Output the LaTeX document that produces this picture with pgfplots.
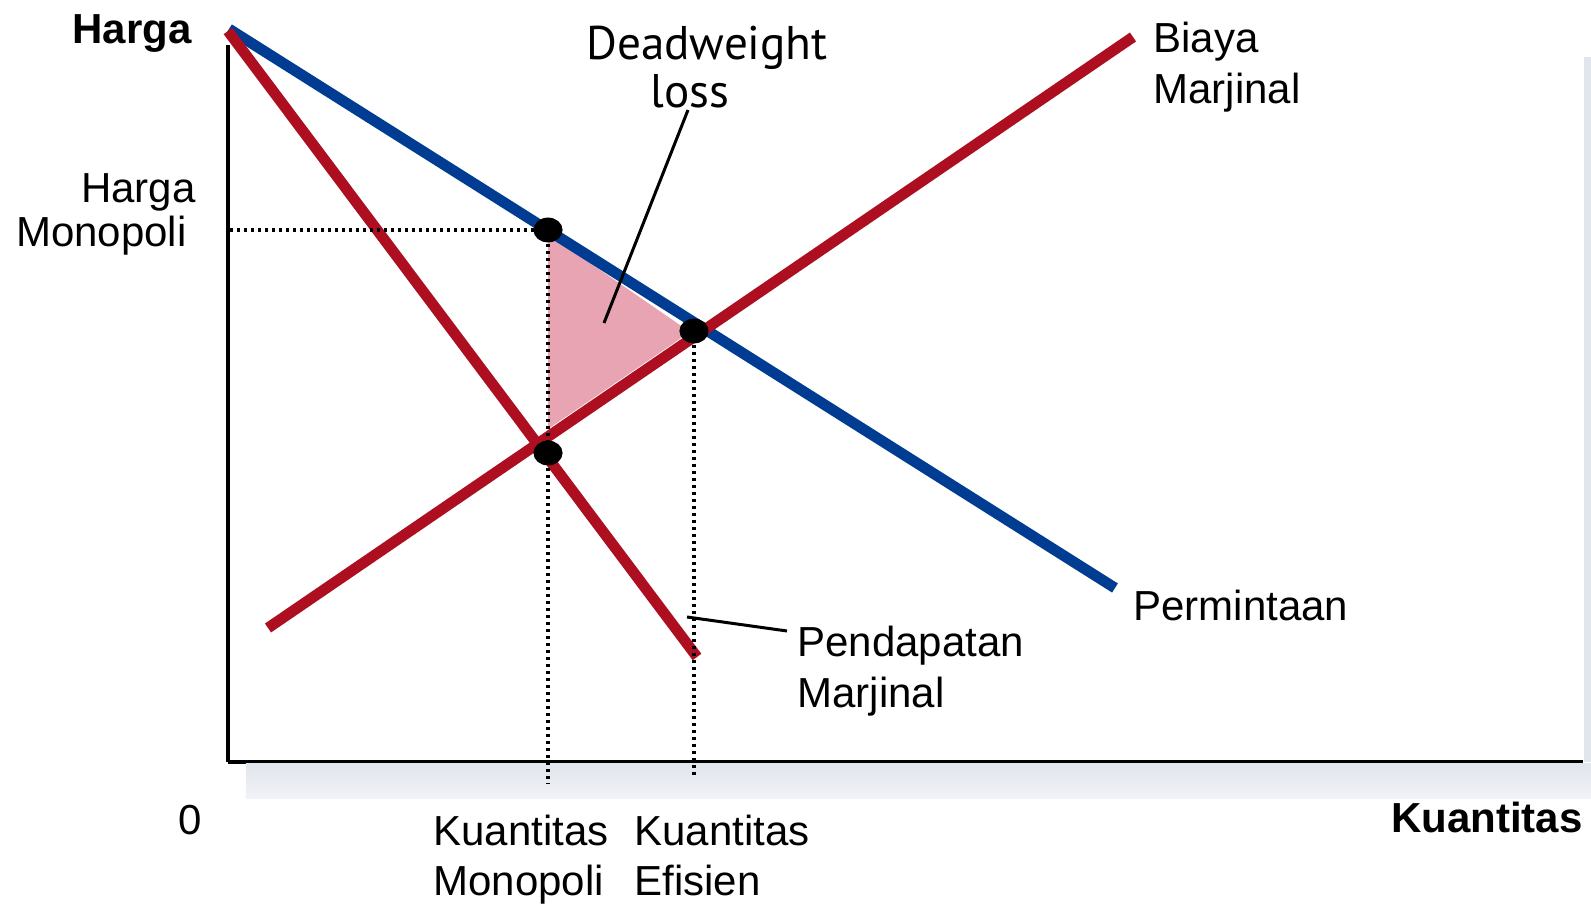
\documentclass[border=0pt]{standalone}
\usepackage{pgfplots}
\pgfplotsset{compat=1.18}
\usepackage{fontspec}
\setmainfont{Liberation Sans}
\newfontfamily\dwfont{PT Sans}
\definecolor{demandblue}{RGB}{0,61,146}
\definecolor{costred}{RGB}{173,14,32}
\definecolor{dwlpink}{RGB}{232,164,178}
\definecolor{shadowtop}{RGB}{225,229,236}
\definecolor{shadowbot}{RGB}{240,242,246}

\begin{document}
\begin{tikzpicture}
  \begin{axis}[
    x=0.5pt, y=0.5pt,
    xmin=0, xmax=1355, ymin=0, ymax=717,
    axis lines=left,
    axis line style={-, line width=1.9pt},
    xtick=\empty, ytick=\empty,
    clip=false,
  ]
    % drop shadow behind the plot area
    \fill[top color=shadowtop, bottom color=shadowbot]
      (axis cs:18,-1) rectangle (axis cs:1363,-36);
    \fill[shadowtop] (axis cs:1356,705) rectangle (axis cs:1363,0);

    % deadweight loss triangle
    \addplot[fill=dwlpink, draw=none]
      coordinates {(320,528) (462,430) (320,333)};

    % curves
    \addplot[demandblue, line width=5.4pt] coordinates {(1,733) (887,174)};
    \addplot[costred, line width=5.4pt] coordinates {(0,731) (469,105)};
    \addplot[costred, line width=5.4pt] coordinates {(40,134) (905,725)};

    % guide lines
    \addplot[black, line width=1.7pt, dash pattern=on 1.7pt off 1.8pt]
      coordinates {(2,532) (320,532)};
    \addplot[black, line width=1.7pt, dash pattern=on 1.7pt off 1.8pt]
      coordinates {(320,532) (320,-22)};
    \addplot[black, line width=1.7pt, dash pattern=on 1.7pt off 1.8pt]
      coordinates {(466,431) (466,-16)};

    % pointers
    \addplot[black, line width=1.5pt] coordinates {(376,439) (460,652)};
    \addplot[black, line width=1.5pt] coordinates {(459,145) (559,131)};

    % equilibrium points
    \addplot[only marks, mark=*, mark size=6pt,
      mark options={black, xscale=1.18}]
      coordinates {(320,532) (466,431) (320,309)};

    % labels
    \node[anchor=base east, inner sep=0, font=\fontsize{21}{21}\selectfont\bfseries]
      at (axis cs:-36,718) {Harga};
    \node[anchor=base east, inner sep=0, font=\fontsize{21}{21}\selectfont]
      at (axis cs:-32,559) {Harga};
    \node[anchor=base east, inner sep=0, font=\fontsize{21}{21}\selectfont]
      at (axis cs:-41,515) {Monopoli};
    \node[anchor=base, inner sep=0, font=\fontsize{23.6}{23.6}\selectfont\dwfont]
      at (axis cs:479,702) {Deadweight};
    \node[anchor=base, inner sep=0, font=\fontsize{23.6}{23.6}\selectfont\dwfont]
      at (axis cs:462,654) {loss};
    \node[anchor=base west, inner sep=0, font=\fontsize{21}{21}\selectfont]
      at (axis cs:925,709) {Biaya};
    \node[anchor=base west, inner sep=0, font=\fontsize{21}{21}\selectfont]
      at (axis cs:925,658) {Marjinal};
    \node[anchor=base west, inner sep=0, font=\fontsize{21}{21}\selectfont]
      at (axis cs:905,141) {Permintaan};
    \node[anchor=base west, inner sep=0, font=\fontsize{21}{21}\selectfont]
      at (axis cs:569,105) {Pendapatan};
    \node[anchor=base west, inner sep=0, font=\fontsize{21}{21}\selectfont]
      at (axis cs:569,54) {Marjinal};
    \node[anchor=base, inner sep=0, font=\fontsize{21}{21}\selectfont]
      at (axis cs:-38,-72) {0};
    \node[anchor=base west, inner sep=0, font=\fontsize{21}{21}\selectfont]
      at (axis cs:205,-83) {Kuantitas};
    \node[anchor=base west, inner sep=0, font=\fontsize{21}{21}\selectfont]
      at (axis cs:205,-133) {Monopoli};
    \node[anchor=base west, inner sep=0, font=\fontsize{21}{21}\selectfont]
      at (axis cs:406,-83) {Kuantitas};
    \node[anchor=base west, inner sep=0, font=\fontsize{21}{21}\selectfont]
      at (axis cs:406,-133) {Efisien};
    \node[anchor=base east, inner sep=0, font=\fontsize{21}{21}\selectfont\bfseries]
      at (axis cs:1355,-70) {Kuantitas};

    \coordinate (BL) at (axis cs:-228,-143);
    \coordinate (TR) at (axis cs:1363,762);
  \end{axis}
  \pgfresetboundingbox
  \path (BL) rectangle (TR);
\end{tikzpicture}
\end{document}
